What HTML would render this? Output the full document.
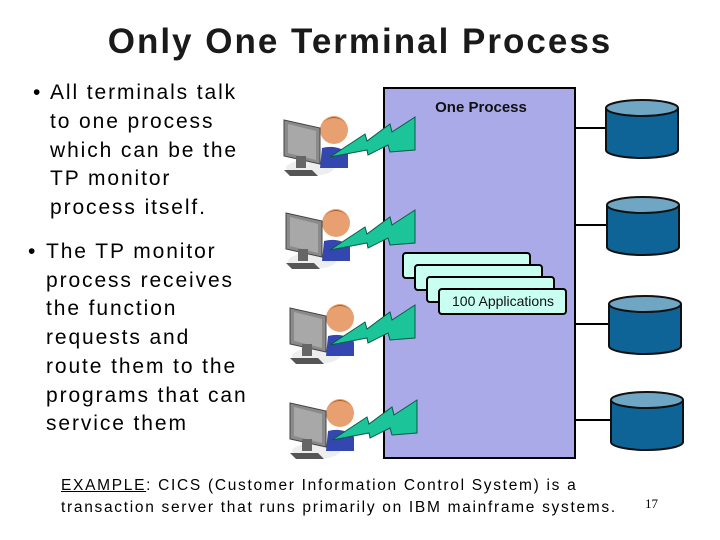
<!DOCTYPE html>
<html><head><meta charset="utf-8"><style>
body{margin:0;width:720px;height:540px;background:#fff;position:relative;overflow:hidden;font-family:"Liberation Sans",sans-serif}
.t{position:absolute;white-space:nowrap;font-size:21px;color:#000;letter-spacing:1.9px}
</style></head><body>
<div style="position:absolute;left:0;width:720px;top:22px;text-align:center;font-size:35px;font-weight:bold;color:#1a1a1a;letter-spacing:2px">Only One Terminal Process</div>

<div class="t" style="left:33px;top:81px">•</div>
<div class="t" style="left:50px;top:81px">All terminals talk</div>
<div class="t" style="left:50px;top:110px">to one process</div>
<div class="t" style="left:50px;top:139px">which can be the</div>
<div class="t" style="left:50px;top:167px">TP monitor</div>
<div class="t" style="left:50px;top:196px">process itself.</div>
<div class="t" style="left:28px;top:240px">•</div>
<div class="t" style="left:46px;top:240px">The TP monitor</div>
<div class="t" style="left:46px;top:269px">process receives</div>
<div class="t" style="left:46px;top:297px">the function</div>
<div class="t" style="left:46px;top:326px">requests and</div>
<div class="t" style="left:46px;top:355px">route them to the</div>
<div class="t" style="left:46px;top:384px">programs that can</div>
<div class="t" style="left:46px;top:412px">service them</div>

<svg width="720" height="540" style="position:absolute;left:0;top:0">
<defs>
<g id="term">
 <ellipse cx="20" cy="38" rx="24" ry="8" fill="#eee"/>
 <path d="M32 18 Q48 14 58 24 L58 38 L30 38 Z" fill="#3446b0"/>
 <circle cx="44" cy="0" r="14" fill="#e8a070"/>
 <path d="M30 -4 Q44 -22 58 -4 Q52 -12 44 -12 Q36 -12 30 -4Z" fill="#b05a20"/>
 <polygon points="-6,-10 30,-2 30,34 -6,26" fill="#8a8a8a" stroke="#444" stroke-width="1"/>
 <polygon points="-2,-6 26,1 26,30 -2,23" fill="#a8a8a8"/>
 <rect x="6" y="26" width="10" height="12" fill="#666"/>
 <polygon points="-6,40 22,40 28,46 0,46" fill="#555"/>
</g>
<g id="bolt"><polygon points="0,0 35,-23 37,-16 60,-33 62,-25 85,-40 85,-7 60,-5 58,-12 38,-2 37,-7" fill="#1cc49a" stroke="#0a5a44" stroke-width="1"/></g>
<g id="cyl">
 <path d="M0 8 L0 50 A36 8 0 0 0 72 50 L72 8" fill="#0e6496" stroke="#111" stroke-width="2"/>
 <ellipse cx="36" cy="8" rx="36" ry="8" fill="#6fa6c4" stroke="#111" stroke-width="2"/>
</g>
</defs>
<rect x="384" y="88" width="191" height="370" fill="#aaaae8" stroke="#000" stroke-width="2"/>
<text x="481" y="112" text-anchor="middle" font-family="Liberation Sans" font-weight="bold" font-size="15" fill="#111">One Process</text>
<g stroke="#000" stroke-width="2" fill="#c8fff0">
<rect x="403" y="253" width="127" height="25" rx="3"/>
<rect x="415" y="265" width="127" height="25" rx="3"/>
<rect x="427" y="277" width="127" height="25" rx="3"/>
<rect x="439" y="289" width="127" height="25" rx="3"/>
</g>
<text x="503" y="306" text-anchor="middle" font-family="Liberation Sans" font-size="14" fill="#111">100 Applications</text>
<g stroke="#000" stroke-width="2">
<line x1="575" y1="128" x2="606" y2="128"/><line x1="575" y1="225" x2="607" y2="225"/>
<line x1="575" y1="324" x2="609" y2="324"/><line x1="575" y1="420" x2="611" y2="420"/>
</g>
<use href="#cyl" x="606" y="100"/><use href="#cyl" x="607" y="197"/>
<use href="#cyl" x="609" y="296"/><use href="#cyl" x="611" y="392"/>
<use href="#term" x="290" y="130"/><use href="#term" x="292" y="223"/>
<use href="#term" x="296" y="318"/><use href="#term" x="296" y="413"/>
<use href="#bolt" x="330" y="157"/><use href="#bolt" x="330" y="250"/>
<use href="#bolt" x="330" y="345"/><use href="#bolt" x="332" y="440"/>
</svg>

<div style="position:absolute;left:61px;top:477px;font-size:15.5px;white-space:nowrap;letter-spacing:1.7px"><u>EXAMPLE</u>: CICS (Customer Information Control System) is a</div>
<div style="position:absolute;left:61px;top:499px;font-size:15.5px;white-space:nowrap;letter-spacing:1.7px">transaction server that runs primarily on IBM mainframe systems.</div>
<div style="position:absolute;left:645px;top:496px;font-size:13px;font-family:'Liberation Serif',serif">17</div>
</body></html>
